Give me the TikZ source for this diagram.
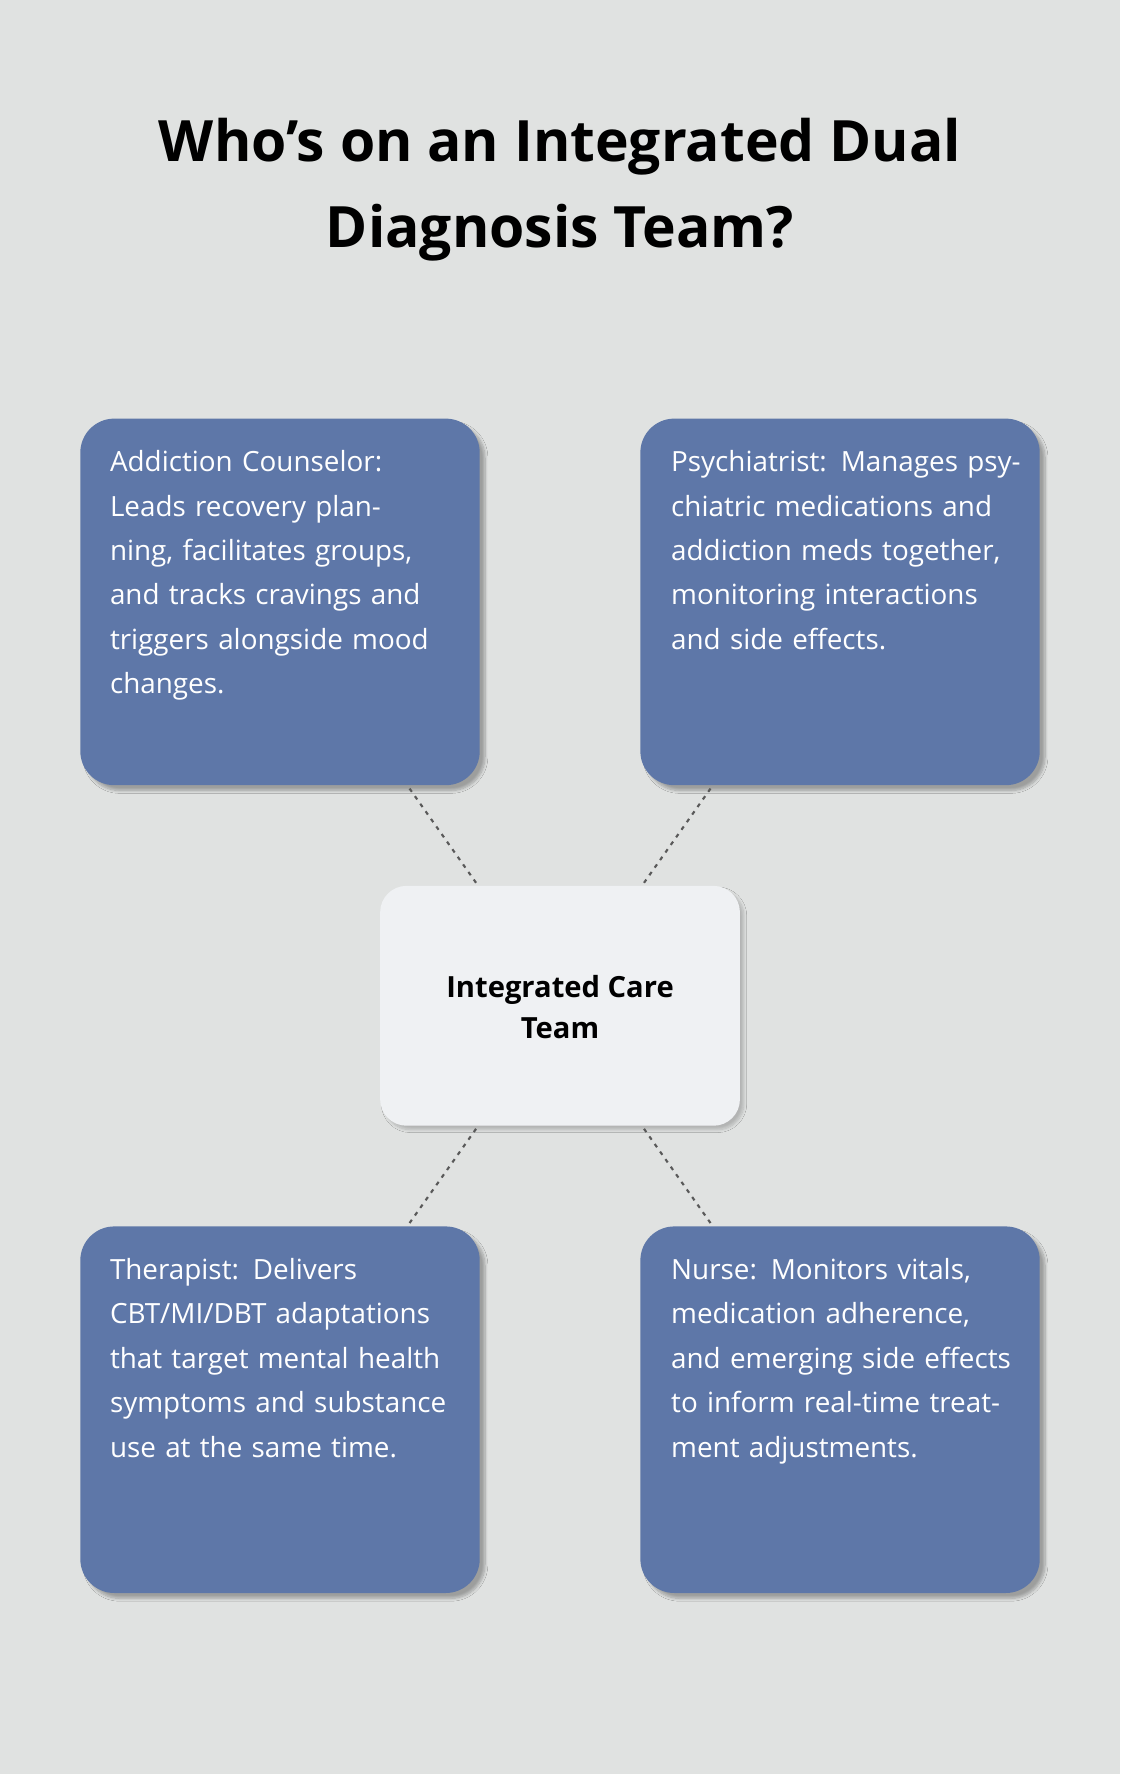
\documentclass[tikz,border=0pt]{standalone}
\usepackage{fontspec}
\setmainfont{Open Sans}
\usetikzlibrary{shadows.blur}
\definecolor{bg}{HTML}{E0E2E1}
\definecolor{boxc}{HTML}{5E77A8}
\definecolor{cent}{HTML}{EFF1F3}
\begin{document}
\begin{tikzpicture}[x=0.03cm,y=-0.03cm,
  role/.style={fill=boxc,rounded corners=0.9cm,blur shadow={shadow blur steps=8,shadow xshift=4pt,shadow yshift=-4pt,shadow opacity=30}},
  txt/.style={anchor=north west,text width=9.3cm,align=left,text=white,font=\fontsize{21}{33.5}\selectfont,inner sep=0pt},
  link/.style={draw=black!65,line width=1.6pt,dash pattern=on 3pt off 4pt}]
\fill[bg] (0,0) rectangle (990,1568);
\useasboundingbox (0,0) rectangle (990,1568);
\node[font=\fontsize{43}{65}\selectfont\bfseries,align=center] (title) at (495,168) {Who’s on an Integrated Dual\\Diagnosis Team?};
\path[role] (71,370) rectangle (424,694);
\path[role] (566,370) rectangle (919,694);
\path[role] (71,1084) rectangle (424,1408);
\path[role] (566,1084) rectangle (919,1408);
\path[fill=cent,rounded corners=0.7cm,blur shadow={shadow blur steps=8,shadow xshift=3pt,shadow yshift=-3pt,shadow opacity=20}] (336,783) rectangle (654,995);
\node[txt] (a) at (97,398) {Addiction Counselor: Leads recovery planning, facilitates groups, and tracks cravings and triggers alongside mood changes.};
\node[txt] (b) at (593,398) {Psychiatrist: Manages psychiatric medications and addiction meds together, monitoring interactions and side effects.};
\node[txt] (c) at (97,1112) {Therapist: Delivers CBT/MI/DBT adaptations that target mental health symptoms and substance use at the same time.};
\node[txt] (d) at (593,1112) {Nurse: Monitors vitals, medication adherence, and emerging side effects to inform real-time treatment adjustments.};
\node[font=\fontsize{22}{31}\selectfont\bfseries,align=center] (center) at (495,890) {Integrated Care\\Team};
\coordinate (a1) at (362,697); \coordinate (a2) at (422,782);
\coordinate (b1) at (628,697); \coordinate (b2) at (568,782);
\coordinate (c1) at (362,1081); \coordinate (c2) at (422,996);
\coordinate (d1) at (628,1081); \coordinate (d2) at (568,996);
\draw[link] (a1) -- (a2); \draw[link] (b1) -- (b2);
\draw[link] (c1) -- (c2); \draw[link] (d1) -- (d2);
\end{tikzpicture}
\end{document}
